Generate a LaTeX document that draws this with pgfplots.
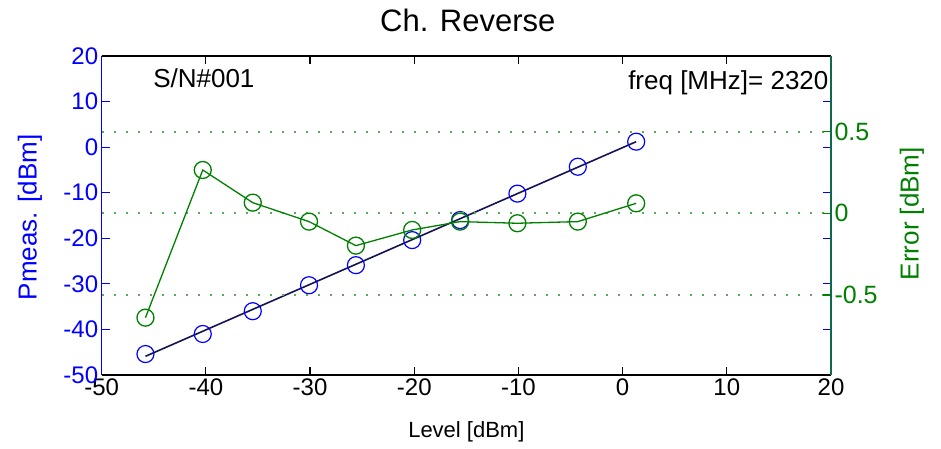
\documentclass[border=0pt]{standalone}
\usepackage{fontspec}
\setmainfont{Liberation Sans}
\usepackage{pgfplots}
\pgfplotsset{compat=1.18}

\definecolor{mgreen}{rgb}{0,0.5,0}
\definecolor{rightline}{rgb}{0.05,0.42,0.3}
\definecolor{fitline}{rgb}{0.08,0.08,0.32}

% Measured power vs. set level
\pgfplotstableread{
lvl    pmeas
-45.8  -45.4
-40.3  -41.0
-35.5  -36.0
-30.1  -30.3
-25.6  -25.9
-20.2  -20.4
-15.6  -16.0
-10.1  -10.2
-4.3   -4.3
1.3    1.2
}\meas

% Deviation from the linear fit
\pgfplotstableread{
lvl    err
-45.8  -0.639
-40.3  0.265
-35.5  0.065
-30.1  -0.051
-25.6  -0.198
-20.2  -0.102
-15.6  -0.051
-10.1  -0.061
-4.3   -0.051
1.3    0.061
}\errtab

% Linear fit through the measured points
\pgfplotstableread{
lvl    fit
-45.8  -45.9
1.3    1.2
}\fit

\begin{document}
\begin{tikzpicture}
\pgfplotsset{
  common/.style={
    at={(101.7pt,74pt)}, anchor=south west,
    scale only axis, width=729.3pt, height=319pt,
    xmin=-50, xmax=20,
    major tick length=8pt,
    /pgf/number format/assume math mode=true,
  },
}
\begin{axis}[
  common,
  ymin=-50, ymax=20,
  xtick={-50,-40,...,20}, ytick={-50,-40,...,20},
  ytick pos=both,
  separate axis lines,
  x axis line style={black, line width=1.5pt},
  y axis line style={blue, line width=1.5pt},
  xtick style={black, line width=1.2pt},
  ytick style={blue, line width=1.2pt},
  tick label style={font=\fontsize{24}{28}\selectfont},
  yticklabel style={blue},
  xlabel={Level [dBm]},
  xlabel style={at={(axis description cs:0.5,-0.179)}, anchor=center,
    font=\fontsize{22}{26}\selectfont},
  ylabel={Pmeas. [dBm]},
  ylabel style={at={(axis description cs:-0.0983,0.494)}, anchor=center,
    font=\fontsize{26}{30}\selectfont, text=blue},
  title={Ch. Reverse},
  title style={at={(axis description cs:0.502,1.093)}, anchor=center,
    font=\fontsize{31}{36}\selectfont},
  clip=false,
]
\addplot[only marks, mark=o, blue, mark size=8.5pt, line width=1.2pt]
  table[x=lvl, y=pmeas] {\meas};
\addplot[fitline, line width=1.6pt, no marks] table[x=lvl, y=fit] {\fit};
\node[anchor=base west, inner sep=0pt, font=\fontsize{26}{30}\selectfont]
  at (axis cs:-45.07,13.0) {S/N\#001};
\node[anchor=base east, inner sep=0pt, font=\fontsize{26}{30}\selectfont]
  at (axis cs:19.77,12.7) {freq [MHz]= 2320};
\end{axis}

\begin{axis}[
  common,
  ymin=-0.990, ymax=0.963,
  axis x line=none, axis y line*=right,
  ytick={-0.5,0,0.5},
  y axis line style={rightline, line width=1.5pt, -},
  ytick style={mgreen, line width=1.2pt},
  yticklabel style={mgreen, font=\fontsize{25}{29}\selectfont},
  ymajorgrids,
  major grid style={mgreen!65, line width=1.8pt, dash pattern=on 1.8pt off 10.2pt},
  ylabel={Error [dBm]},
  ylabel style={at={(axis description cs:1.111,0.506)}, anchor=center,
    font=\fontsize{26}{30}\selectfont, text=mgreen},
]
\addplot[mgreen, mark=o, mark size=8.5pt, line width=1.3pt]
  table[x=lvl, y=err] {\errtab};
\end{axis}
\pgfresetboundingbox
\useasboundingbox (0,0) rectangle (941pt,449pt);
\end{tikzpicture}
\end{document}
